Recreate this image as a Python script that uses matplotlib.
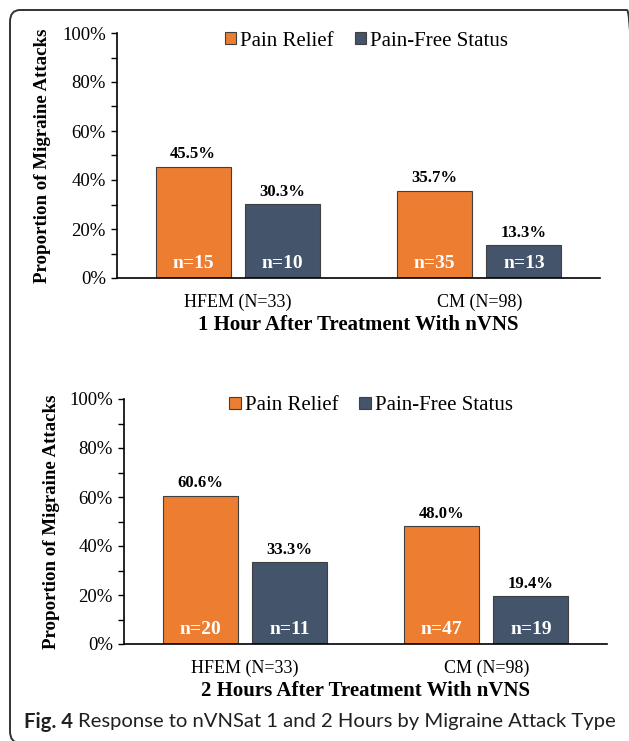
import numpy as np
import matplotlib
matplotlib.use('Agg')
import matplotlib.pyplot as plt
from matplotlib.patches import FancyBboxPatch, Patch
from matplotlib.ticker import MultipleLocator, PercentFormatter

# data
groups = ['HFEM (N=33)', 'CM (N=98)']
series = ['Pain Relief', 'Pain-Free Status']
relief_1h = [45.5, 35.7]
free_1h = [30.3, 13.3]
n_relief_1h = [15, 35]
n_free_1h = [10, 13]
relief_2h = [60.6, 48.0]
free_2h = [33.3, 19.4]
n_relief_2h = [20, 47]
n_free_2h = [11, 19]
titles = ['1 Hour After Treatment With nVNS', '2 Hours After Treatment With nVNS']
caption_bold = 'Fig. 4'
caption_rest = 'Response to nVNSat 1 and 2 Hours by Migraine Attack Type'

orange = '#ED7D31'
navy = '#44546A'
W, H = 629, 741
serif = 'Liberation Serif'

fig = plt.figure(figsize=(W / 100, H / 100), dpi=100)

# rounded frame round the figure (right and bottom edges fall just off the picture)
frame = FancyBboxPatch((10 / W, -2 / H), (637 - 10) / W, (731 + 2) / H,
                       boxstyle='round,pad=0,rounding_size=0.016',
                       transform=fig.transFigure, fill=False,
                       edgecolor='#333333', linewidth=1.4, clip_on=False)
fig.patches.append(frame)


def panel(rect, relief, free, n_rel, n_free, title, ylab_x, leg_xy):
    l, t, r, b = rect
    ax = fig.add_axes([l / W, (H - b) / H, (r - l) / W, (b - t) / H])
    x = np.arange(len(groups))
    off, w = 0.185, 0.31
    b1 = ax.bar(x - off, [v / 100 for v in relief], w, color=orange,
                edgecolor='#404040', linewidth=0.8)
    b2 = ax.bar(x + off, [v / 100 for v in free], w, color=navy,
                edgecolor='#404040', linewidth=0.8)
    for bars, vals, ns in ((b1, relief, n_rel), (b2, free, n_free)):
        for bar, v, nn in zip(bars, vals, ns):
            cx = bar.get_x() + bar.get_width() / 2
            ax.annotate(f'{v:.1f}%', (cx, v / 100), xytext=(0, 3),
                        textcoords='offset points', ha='center', va='bottom',
                        fontsize=12, fontweight='bold', family=serif)
            ax.text(cx, 0.06, f'n={nn}', ha='center', va='center',
                    color='white', fontsize=14, fontweight='bold', family=serif)
    ax.set_xlim(-0.5, 1.5)
    ax.set_ylim(0, 1)
    ax.yaxis.set_major_locator(MultipleLocator(0.2))
    ax.yaxis.set_minor_locator(MultipleLocator(0.1))
    ax.yaxis.set_major_formatter(PercentFormatter(1.0, decimals=0))
    ax.set_xticks(x)
    ax.set_xticklabels(groups, fontsize=13, family=serif)
    ax.tick_params(axis='x', length=0, pad=11)
    ax.tick_params(axis='y', which='both', direction='out', length=4,
                   width=1, labelsize=13.5, pad=4)
    for lab in ax.get_yticklabels():
        lab.set_family(serif)
    for s in ('top', 'right'):
        ax.spines[s].set_visible(False)
    for s in ('left', 'bottom'):
        ax.spines[s].set_linewidth(1.2)
    ax.set_ylabel('Proportion of Migraine Attacks', fontsize=13.6,
                  fontweight='bold', family=serif, va='center')
    ax.yaxis.set_label_coords(ylab_x, 0.5)
    ax.text(0.5, -0.19, title, transform=ax.transAxes, ha='center',
            va='center', fontsize=15, fontweight='bold', family=serif)
    handles = [Patch(facecolor=orange, edgecolor='#404040', linewidth=0.8),
               Patch(facecolor=navy, edgecolor='#404040', linewidth=0.8)]
    fig.legend(handles, series, loc='center', ncol=2,
               bbox_to_anchor=(leg_xy[0] / W, (H - leg_xy[1]) / H),
               frameon=False, prop={'family': serif, 'size': 15},
               handlelength=0.55, handleheight=0.55, handletextpad=0.2,
               columnspacing=1.0, borderpad=0)
    return ax


panel((117, 33, 600, 278), relief_1h, free_1h, n_relief_1h, n_free_1h,
      titles[0], (43 - 117) / 483, (366.5, 41))
panel((124, 399, 607, 644), relief_2h, free_2h, n_relief_2h, n_free_2h,
      titles[1], (52 - 124) / 483, (371, 406))

# caption: bold figure number followed by the regular text
cap_font = 'Lato'
t1 = fig.text(24 / W, (H - 722) / H, caption_bold, fontsize=14.6,
              fontweight='bold', family=cap_font, color='#231F20', va='center')
fig.canvas.draw()
bb = t1.get_window_extent()
fig.text((bb.x1 + 5) / W, (H - 722) / H, caption_rest, fontsize=14.6,
         family=cap_font, color='#231F20', va='center')

fig.savefig('out.png', dpi=100)
